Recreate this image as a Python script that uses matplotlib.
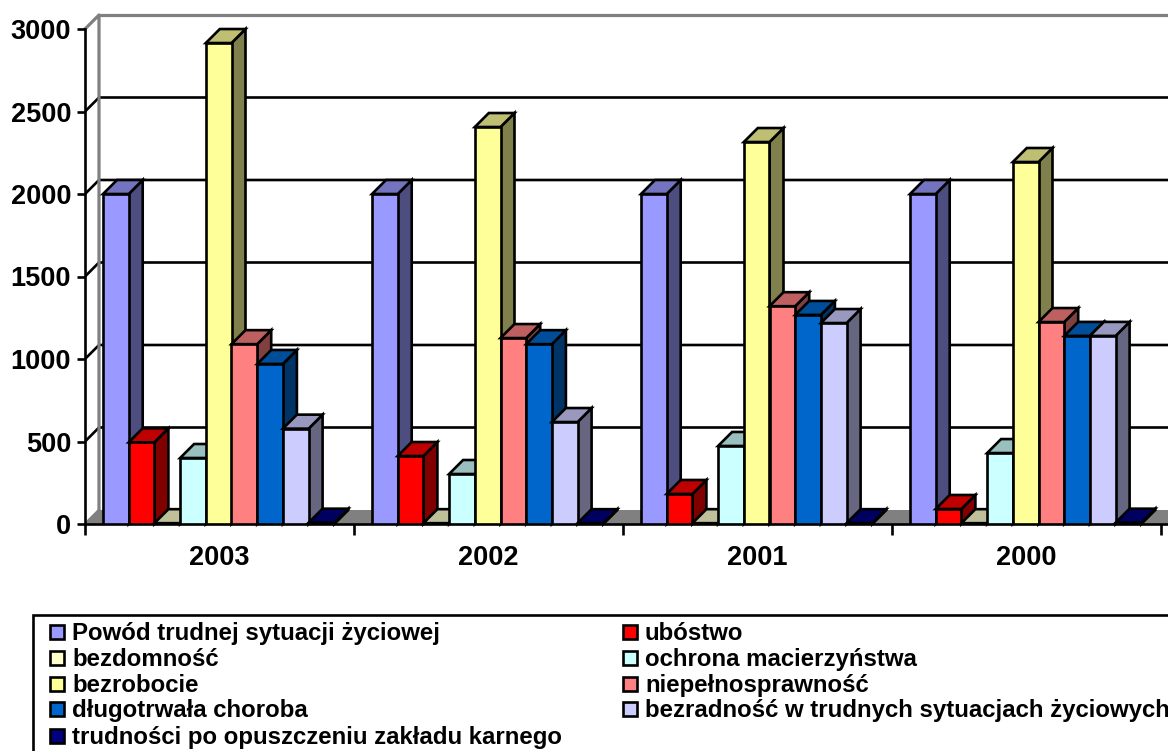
import matplotlib
matplotlib.use("Agg")
from matplotlib import pyplot as plt
from matplotlib.patches import Polygon, Rectangle
from matplotlib.colors import to_rgb

plt.rcParams['font.family'] = ['Liberation Sans', 'DejaVu Sans']
plt.rcParams['font.weight'] = 'bold'

years = ['2003', '2002', '2001', '2000']
series_names = ['Powód trudnej sytuacji życiowej', 'ubóstwo', 'bezdomność',
                'ochrona macierzyństwa', 'bezrobocie', 'niepełnosprawność',
                'długotrwała choroba', 'bezradność w trudnych sytuacjach życiowych',
                'trudności po opuszczeniu zakładu karnego']
colors = ['#9999FF', '#FF0000', '#FFFFCC', '#CCFFFF', '#FFFF99',
          '#FF8080', '#0066CC', '#CCCCFF', '#000080']

powod = [2000, 2000, 2000, 2000]
ubostwo = [495, 412, 182, 91]
bezdomnosc = [5, 5, 5, 5]
ochrona = [400, 303, 473, 430]
bezrobocie = [2915, 2406, 2315, 2194]
niepelnosprawnosc = [1090, 1127, 1320, 1224]
choroba = [970, 1090, 1267, 1140]
bezradnosc = [578, 618, 1218, 1140]
karny = [8, 5, 5, 8]
values = [powod, ubostwo, bezdomnosc, ochrona, bezrobocie,
          niepelnosprawnosc, choroba, bezradnosc, karny]

W, H = 1168, 751
PX_X = 269.0    # pixels per category
PX_Y = 0.165    # pixels per value unit
dx = 14 / PX_X  # depth of the fake 3D
dy = 14 / PX_Y
bar_w = 25.7 / PX_X
bar_start = 18 / PX_X
LW = 1.9

fig = plt.figure(figsize=(W / 100, H / 100), dpi=100)
ax = fig.add_axes([85 / W, (H - 524) / H, (W - 85) / W, 495 / H])
ax.set_xlim(0, (W - 85) / PX_X)
ax.set_ylim(0, 3000)


def shade(color, f):
    return tuple(c * f for c in to_rgb(color))


# floor and back walls
ax.add_patch(Polygon([(0, 0), (dx, dy), (5, dy), (5, 0)], fc='#808080', ec='none',
                     zorder=0.5, clip_on=False))
for v in range(500, 3000, 500):
    ax.plot([0, dx, 5], [v, v + dy, v + dy], color='black', lw=LW, zorder=0.6,
            clip_on=True, solid_joinstyle='miter')
ax.plot([0, dx, dx], [3000, 3000 + dy, dy], color='#808080', lw=2.3, zorder=0.7, clip_on=False)
ax.plot([dx, 5], [3000 + dy, 3000 + dy], color='#808080', lw=2.3, zorder=0.7, clip_on=False)
ax.plot([0, dx], [0, dy], color='#808080', lw=LW, zorder=0.7)

# bars, left to right so that each front covers the side of the one before
z = 1.0
for g in range(len(years)):
    for s, vals in enumerate(values):
        x0 = g + bar_start + s * bar_w
        v = vals[g]
        col = colors[s]
        ax.add_patch(Polygon([(x0 + bar_w, 0), (x0 + bar_w + dx, dy),
                              (x0 + bar_w + dx, v + dy), (x0 + bar_w, v)],
                             fc=shade(col, 0.5), ec='black', lw=LW, zorder=z, clip_on=False,
                             joinstyle='miter'))
        ax.add_patch(Polygon([(x0, v), (x0 + dx, v + dy), (x0 + bar_w + dx, v + dy),
                              (x0 + bar_w, v)],
                             fc=shade(col, 0.75), ec='black', lw=LW, zorder=z + 0.01,
                             clip_on=False, joinstyle='miter'))
        ax.bar(x0, v, width=bar_w, align='edge', color=col, edgecolor='black',
               linewidth=LW, zorder=z + 0.02)
        z += 0.1

# axes
for side in ['top', 'right']:
    ax.spines[side].set_visible(False)
ax.spines['left'].set_linewidth(LW)
ax.spines['bottom'].set_linewidth(LW)
ax.spines['bottom'].set_zorder(0.9)
ax.set_yticks(range(0, 3001, 500))
ax.set_xticks(range(0, 5))
ax.set_xticks([i + 0.5 for i in range(4)], minor=True)
ax.set_xticklabels([])
ax.set_xticklabels(years, minor=True)
ax.tick_params(axis='y', length=6, width=LW, labelsize=19.5, pad=4)
ax.tick_params(axis='x', which='major', length=8, width=LW)
ax.tick_params(axis='x', which='minor', length=0, labelsize=19.5, pad=15)

# legend, runs off the right and bottom edge of the picture
fig.add_artist(Rectangle((33 / W, -0.1), 1.2, (H - 615) / H + 0.1, transform=fig.transFigure,
                         fc='white', ec='black', lw=LW))
rows = [632, 658, 684, 709, 736]
for i, name in enumerate(series_names):
    left = 50 if i % 2 == 0 else 623
    y = rows[i // 2]
    fig.add_artist(Rectangle((left / W, (H - y - 7) / H), 14 / W, 14 / H,
                             transform=fig.transFigure, fc=colors[i], ec='black', lw=LW))
    fig.text((left + 22) / W, (H - y - 1.5) / H, name, fontsize=17.3, va='center', ha='left')

fig.savefig('out.png', dpi=100)
